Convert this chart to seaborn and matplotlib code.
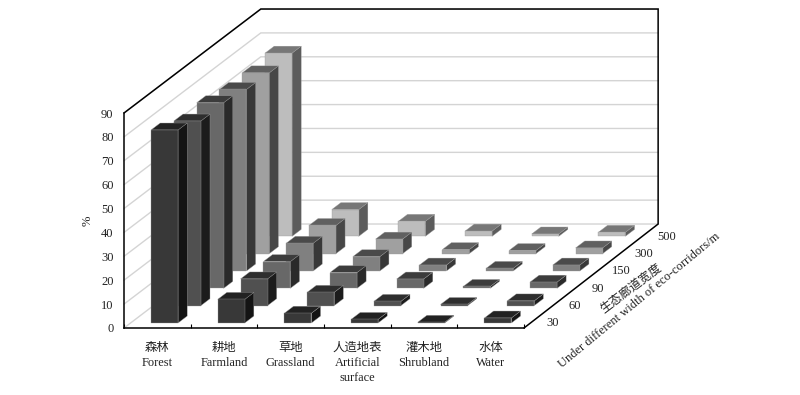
import matplotlib
matplotlib.use("Agg")
import matplotlib.pyplot as plt
from matplotlib.patches import Polygon
import seaborn as sns

categories = ["森林\nForest", "耕地\nFarmland", "草地\nGrassland",
              "人造地表\nArtificial\nsurface", "灌木地\nShrubland", "水体\nWater"]
widths = ["30", "60", "90", "150", "300", "500"]
forest = [80.8, 77.3, 77.7, 76.0, 75.7, 76.7]
farmland = [9.9, 11.2, 11.2, 11.6, 11.8, 11.2]
grassland = [4.1, 5.6, 6.6, 6.0, 6.1, 6.3]
artificial = [1.5, 1.8, 3.9, 2.5, 1.7, 2.2]
shrubland = [0.3, 0.5, 0.8, 1.1, 1.3, 1.0]
water = [2.1, 2.0, 2.6, 2.5, 2.4, 1.7]
values = [forest, farmland, grassland, artificial, shrubland, water]
front_colors = ["#383838", "#505050", "#686868", "#808080", "#a0a0a0", "#bdbdbd"]
side_colors = ["#141414", "#1c1c1c", "#2a2a2a", "#383838", "#474747", "#5c5c5c"]
top_colors = ["#222222", "#2e2e2e", "#3c3c3c", "#4a4a4a", "#606060", "#777777"]
y_ticks = list(range(0, 100, 10))

sns.set_style("white")
plt.rcParams["font.family"] = ["Liberation Serif", "Noto Sans CJK SC", "DejaVu Sans"]
plt.rcParams["font.size"] = 8.8

W, H = 800, 395
fig = plt.figure(figsize=(W / 100, H / 100), dpi=100)
ax = fig.add_axes([124 / W, (H - 328) / H, 400 / W, 215 / H])
ax.set_xlim(0, 6)
ax.set_ylim(0, 90)

# Oblique projection: one depth slot shifts a point right and up, in data units.
DX = 22.8 / (400 / 6)
DY = 17.33 / (215 / 90)
NDEPTH = 6
BAR_W, BAR_D, MARGIN_X, MARGIN_D = 0.405, 0.40, 0.307, 0.29
BACK_RIGHT = 5.96


def proj(x, y, d):
    return (x + d * DX, y + d * DY)


# Walls and grid
for v in y_ticks:
    ax.plot(*zip(proj(0, v, 0), proj(0, v, NDEPTH), proj(BACK_RIGHT, v, NDEPTH)),
            color="#d4d4d4", lw=1.0, clip_on=False, zorder=1, solid_joinstyle="miter")
outline = [proj(0, 90, 0), proj(0, 90, NDEPTH), proj(BACK_RIGHT, 90, NDEPTH),
           proj(BACK_RIGHT, 0, NDEPTH), proj(6, 0, 0)]
ax.plot(*zip(*outline), color="black", lw=1.1, clip_on=False, zorder=2, solid_joinstyle="miter")

# Bars, back to front
z = 3
for d in reversed(range(NDEPTH)):
    for c, series in enumerate(values):
        v = series[d]
        x0, x1 = c + MARGIN_X, c + MARGIN_X + BAR_W
        d0, d1 = d + MARGIN_D, d + MARGIN_D + BAR_D
        faces = [
            ([proj(x1, 0, d0), proj(x1, 0, d1), proj(x1, v, d1), proj(x1, v, d0)], side_colors[d]),
            ([proj(x0, v, d0), proj(x1, v, d0), proj(x1, v, d1), proj(x0, v, d1)], top_colors[d]),
            ([proj(x0, 0, d0), proj(x1, 0, d0), proj(x1, v, d0), proj(x0, v, d0)], front_colors[d]),
        ]
        for pts, col in faces:
            ax.add_patch(Polygon(pts, closed=True, facecolor=col, edgecolor="#9a9a9a",
                                 lw=0.25, clip_on=False, zorder=z))
            z += 1

# Axes
for s in ("top", "right"):
    ax.spines[s].set_visible(False)
for s in ("left", "bottom"):
    ax.spines[s].set_linewidth(1.1)
    ax.spines[s].set_color("black")
    ax.spines[s].set_zorder(500)
ax.set_yticks(y_ticks)
ax.tick_params(axis="y", length=0, pad=7.5, labelsize=9, colors="#222222")
ax.set_xticks(range(7))
ax.set_xticklabels([])
ax.tick_params(axis="x", which="major", direction="in", length=3.2, width=0.8, color="black", bottom=True)
ax.set_xticks([i + 0.5 for i in range(6)], minor=True)
ax.set_xticklabels(categories, minor=True, fontsize=8.9, linespacing=1.32, color="#222222")
ax.tick_params(axis="x", which="minor", length=0, pad=10.2, bottom=False)
ax.set_ylabel("%", fontsize=9, labelpad=5, color="#222222")

# Depth labels
for d, lab in enumerate(widths):
    px, py = proj(6.0, 0, d + 0.5)
    ax.annotate(lab, xy=(px, py), xytext=(17, -4), textcoords="offset pixels",
                ha="center", va="center", fontsize=9, annotation_clip=False, color="#222222")
ax.annotate("生态廊道宽度", xy=(631, H - 288), xycoords="figure pixels", ha="center", va="center",
            rotation=37, rotation_mode="anchor", fontsize=8.8, color="#222222")
ax.annotate("Under different width of eco-corridors/m", xy=(639, H - 300), xycoords="figure pixels",
            ha="center", va="center", rotation=39.5, rotation_mode="anchor", fontsize=9, color="#222222")

fig.savefig("out.png", dpi=100, facecolor="white")
